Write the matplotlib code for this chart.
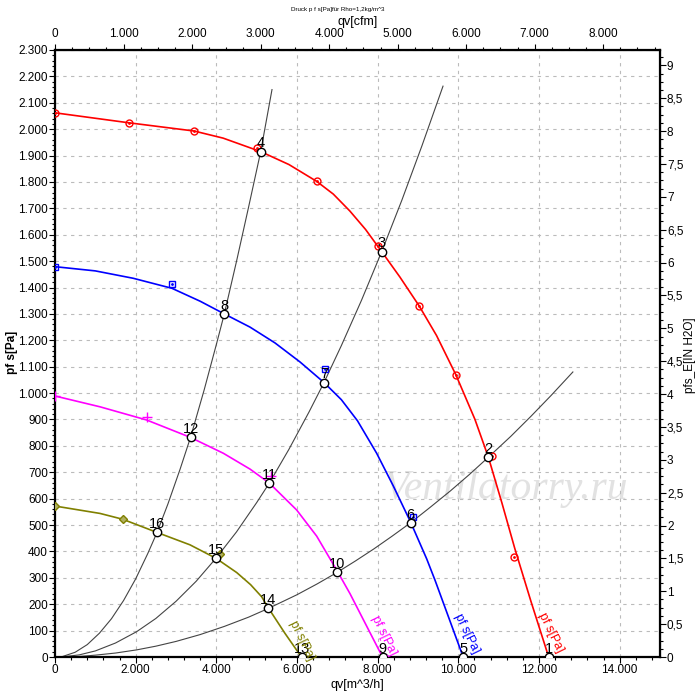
import matplotlib
matplotlib.use("Agg")
import matplotlib.pyplot as plt
from matplotlib.ticker import MultipleLocator, FuncFormatter

# Curvas del ventilador (caudal m^3/h, presion Pa)
q_rojo = [0, 1840, 3450, 4170, 5100, 5800, 6490, 6900, 7310, 7700, 8100, 8550, 9030, 9460, 9940,
          10410, 10745, 11080, 11400, 11800, 12240]
p_rojo = [2062, 2024, 1993, 1966, 1915, 1866, 1802, 1754, 1690, 1620, 1536, 1440, 1330, 1218, 1069,
          901, 757, 584, 411, 211, 0]

q_azul = [0, 1000, 1940, 2900, 3600, 4198, 4835, 5455, 6074, 6670, 7100, 7500, 7975, 8388, 8820, 9215, 9422, 10120]
p_azul = [1479, 1463, 1435, 1397, 1348, 1300, 1250, 1190, 1118, 1040, 975, 895, 772, 648, 510, 372, 291, 0]

q_magenta = [0, 1116, 2273, 3360, 4173, 4835, 5314, 5992, 6488, 7000, 7314, 8120]
p_magenta = [989, 948, 898, 832, 772, 712, 659, 557, 458, 325, 240, 0]

q_oliva = [0, 1116, 1678, 2530, 3347, 3992, 4505, 4850, 5125, 5289, 5700, 6110]
p_oliva = [572, 544, 522, 472, 425, 374, 320, 274, 228, 186, 90, 0]

# Marcadores de medicion sobre cada curva
mq_rojo = [0, 1840, 3450, 5020, 6490, 8020, 9030, 9940, 10830, 11380]
mp_rojo = [2062, 2024, 1994, 1927, 1805, 1558, 1330, 1068, 762, 380]
mq_azul = [0, 2900, 6700, 8880]
mp_azul = [1479, 1413, 1090, 530]
mq_magenta = [0, 2270, 5350]
mp_magenta = [989, 909, 687]
mq_oliva = [0, 1680, 4090]
mp_oliva = [572, 522, 390]

# Curvas del sistema (lineas negras finas)
qA = [150, 500, 800, 1100, 1400, 1700, 2000, 2300, 2530, 2800, 3100, 3360, 3700, 4000, 4198, 4500, 4800, 5100, 5380]
pA = [0, 18, 47, 90, 145, 214, 296, 392, 472, 580, 711, 832, 1013, 1184, 1300, 1499, 1705, 1915, 2150]
qB = [150, 600, 1000, 1500, 2025, 2500, 3000, 3500, 3990, 4500, 5000, 5310, 5800, 6300, 6670, 7100, 7600, 8100, 8600, 9100, 9620]
pB = [0, 8, 23, 53, 96, 146, 211, 287, 374, 474, 585, 658, 787, 929, 1040, 1180, 1352, 1536, 1731, 1938, 2163]
qC = [150, 600, 1000, 1500, 2025, 2500, 3000, 3600, 4200, 4800, 5290, 6000, 6500, 7000, 7450, 7900, 8350,
      8820, 9300, 9800, 10270, 10745, 11300, 11800, 12300, 12840]
pC = [0, 2, 7, 15, 27, 41, 59, 85, 116, 151, 184, 236, 277, 321, 364, 409, 457,
      509, 567, 629, 691, 757, 836, 912, 991, 1080]

# Puntos de operacion numerados
num_puntos = list(range(1, 17))
q_puntos = [12240, 10745, 8100, 5100, 10120, 8820, 6670, 4198, 8125, 7000, 5314, 3364, 6116, 5289, 3992, 2537]
p_puntos = [0, 757, 1536, 1915, 0, 509, 1040, 1300, 0, 321, 658, 832, 0, 184, 374, 472]

# Etiquetas de las curvas (posicion en datos)
etiquetas = ["pf s[Pa]", "pf s[Pa]", "pf s[Pa]", "pf s[Pa]"]
q_etiq = [12280, 10200, 8140, 6130]
p_etiq = [92, 88, 80, 64]
colores = ["#ff0000", "#0000ff", "#ff00ff", "#808000"]

M3H_POR_CFM = 1.69901
PA_POR_INH2O = 249.089

plt.rcParams['font.family'] = ['Liberation Sans', 'DejaVu Sans']


def miles(v, pos=None):
    # Formato con punto como separador de miles
    return f"{int(round(v)):,}".replace(",", ".")


def decimal_coma(v, pos=None):
    s = f"{v:g}"
    return s.replace(".", ",")


fig = plt.figure(figsize=(7, 7), dpi=100)
ax = fig.add_axes([55 / 700, 43 / 700, 605 / 700, 607 / 700])
ax.set_xlim(0, 15000)
ax.set_ylim(0, 2300)

# Rejilla discontinua gris
ax.set_xticks(range(0, 15000, 2000))
ax.set_yticks(range(0, 2301, 100))
ax.xaxis.set_minor_locator(MultipleLocator(400))
ax.yaxis.set_minor_locator(MultipleLocator(20))
ax.grid(True, which='major', color='#bbbbbb', linestyle=(0, (3, 4)), linewidth=0.8)
ax.xaxis.set_major_formatter(FuncFormatter(miles))
ax.yaxis.set_major_formatter(FuncFormatter(miles))
ax.tick_params(which='both', direction='out', labelsize=8.5, width=0.8, pad=1)
ax.tick_params(which='major', length=4)
ax.tick_params(which='minor', length=2.5)
for s in ax.spines.values():
    s.set_linewidth(1.6)

# Curvas del sistema
for qs, ps in [(qA, pA), (qB, pB), (qC, pC)]:
    ax.plot(qs, ps, color='#444444', linewidth=0.8, zorder=2)

# Curvas del ventilador
curvas = [(q_rojo, p_rojo), (q_azul, p_azul), (q_magenta, p_magenta), (q_oliva, p_oliva)]
for (qs, ps), c in zip(curvas, colores):
    ax.plot(qs, ps, color=c, linewidth=1.2, zorder=3)

# Marcadores
ax.plot(mq_rojo, mp_rojo, 'o', color=colores[0], mfc='none', ms=5, mew=1, zorder=4)
ax.plot(mq_rojo, mp_rojo, '.', color=colores[0], ms=2, zorder=4)
ax.plot(mq_azul, mp_azul, 's', color=colores[1], mfc='none', ms=5, mew=1, zorder=4)
ax.plot(mq_azul, mp_azul, '.', color=colores[1], ms=2, zorder=4)
ax.plot(mq_magenta, mp_magenta, '+', color=colores[2], ms=7, mew=1, zorder=4)
ax.plot(mq_oliva, mp_oliva, 'D', color=colores[3], mfc='#b0b060', ms=4, mew=1, zorder=4)

# Puntos de operacion
ax.plot(q_puntos, p_puntos, 'o', mfc='white', mec='black', ms=6, mew=1, zorder=5)
for n, q, p in zip(num_puntos, q_puntos, p_puntos):
    ax.annotate(str(n), (q, p), xytext=(0, 3), textcoords='offset points',
                ha='center', va='baseline', fontsize=10.5, zorder=6)

for t, q, p, c in zip(etiquetas, q_etiq, p_etiq, colores):
    ax.text(q, p, t, color=c, fontsize=9, rotation=-64, ha='center', va='center',
            rotation_mode='anchor', zorder=6)

# Marca de agua
ax.text(0.745, 0.278, "Ventilatorry.ru", transform=ax.transAxes, fontsize=30,
        family='Liberation Serif', style='italic', color='#e2e2e2',
        ha='center', va='center', zorder=1)

# Ejes secundarios: cfm arriba, pulgadas de agua a la derecha
top = ax.secondary_xaxis('top', functions=(lambda x: x / M3H_POR_CFM, lambda x: x * M3H_POR_CFM))
top.set_xticks(range(0, 9000, 1000))
top.xaxis.set_minor_locator(MultipleLocator(250))
top.xaxis.set_major_formatter(FuncFormatter(miles))
top.tick_params(which='both', direction='out', labelsize=8.5, width=0.8, pad=3)
top.tick_params(which='major', length=4)
top.tick_params(which='minor', length=2.5)
top.set_xlabel("qv[cfm]", fontsize=9, labelpad=2)

der = ax.secondary_yaxis('right', functions=(lambda y: y / PA_POR_INH2O, lambda y: y * PA_POR_INH2O))
der.set_yticks([i * 0.5 for i in range(19)])
der.yaxis.set_minor_locator(MultipleLocator(0.125))
der.yaxis.set_major_formatter(FuncFormatter(decimal_coma))
der.tick_params(which='both', direction='out', labelsize=8.5, width=0.8, pad=1)
der.tick_params(which='major', length=4)
der.tick_params(which='minor', length=2.5)

ax.set_xlabel("qv[m^3/h]", fontsize=9, labelpad=2)

# Titulos de los ejes verticales colocados a mano
fig.text(12 / 700, 1 - 352 / 700, "pf s[Pa]", fontsize=8.5, fontweight='bold',
         rotation=90, ha='center', va='center')
fig.text(690 / 700, 1 - 355 / 700, "pfs_E[IN H2O]", fontsize=8.5,
         rotation=90, ha='center', va='center')

fig.text(338 / 700, 1 - 10 / 700, "Druck p f s[Pa]für Rho=1,2kg/m^3", fontsize=4.5,
         ha='center', va='center')

fig.savefig("out.png", dpi=100)
